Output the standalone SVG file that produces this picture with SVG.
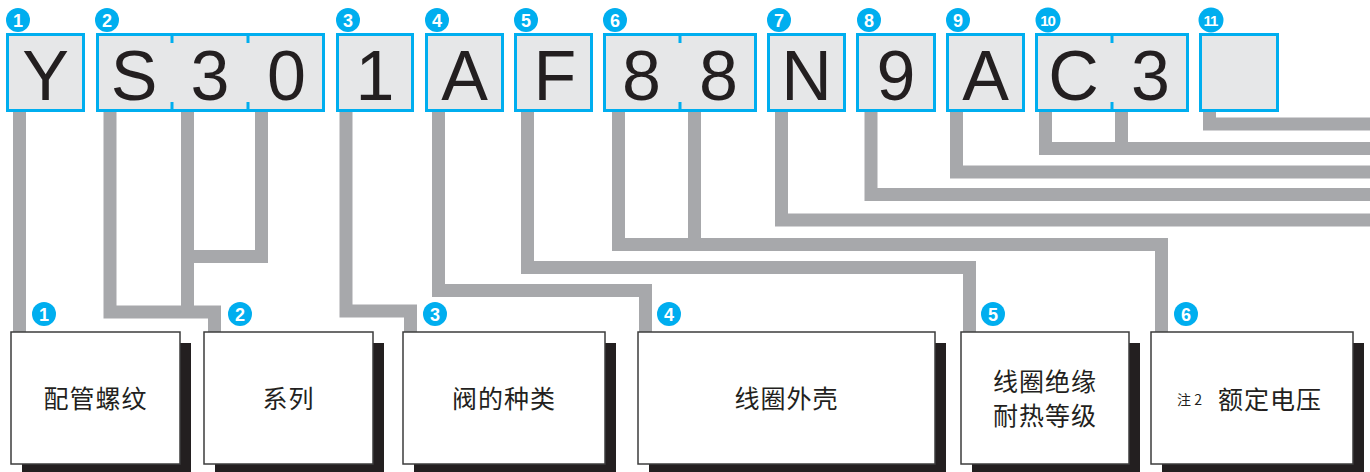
<svg xmlns="http://www.w3.org/2000/svg" width="1370" height="472" viewBox="0 0 1370 472">
<style>
.conn{fill:none;stroke:#A7A8AB;stroke-width:13;stroke-linejoin:miter;stroke-linecap:butt}
.cell{fill:#E6E7E8;stroke:#00AEEF;stroke-width:3}
.tick{stroke:#00AEEF;stroke-width:3}
.big{font-family:"Liberation Sans",Arial,sans-serif;font-size:70px;fill:#231F20;text-anchor:middle}
.badge{fill:#00AEEF}
.bnum{font-family:"Liberation Sans",Arial,sans-serif;font-weight:bold;font-size:18px;fill:#fff;text-anchor:middle}
.bnum2{font-family:"Liberation Sans",Arial,sans-serif;font-weight:bold;font-size:15px;fill:#fff;text-anchor:middle;letter-spacing:-1px}
.shadow{fill:#231F20}
.box{fill:#fff;stroke:#3C3C3C;stroke-width:1.5}
.lbl{font-family:"Noto Sans CJK SC","Noto Sans",sans-serif;font-size:25px;fill:#231F20;text-anchor:middle;letter-spacing:1px}
.note{font-family:"Noto Sans CJK SC","Noto Sans",sans-serif;font-size:14px;fill:#231F20}
</style>
<rect width="1370" height="472" fill="#fff"/>
<g id="connectors">
<path class="conn" d="M19.5 112V332"/>
<path class="conn" d="M110 112V312H214.5V332M187.5 112V312M261.5 112V256.5H187.5"/>
<path class="conn" d="M346 112V311H410.5V332"/>
<path class="conn" d="M438.5 112V290.5H645.5V332"/>
<path class="conn" d="M527.5 112V267.5H969.5V332"/>
<path class="conn" d="M618.5 112V244.5H1161.5V332M694.5 112V244.5"/>
<path class="conn" d="M781.5 112V220H1370"/>
<path class="conn" d="M871 112V194.5H1370"/>
<path class="conn" d="M956.5 112V172H1370"/>
<path class="conn" d="M1045.5 112V148.5H1370M1121.5 112V148.5"/>
<path class="conn" d="M1209.5 112V124H1370"/>
</g>
<g id="code1"><rect class="cell" x="7.5" y="34.5" width="76" height="76"/><text class="big" x="45.5" y="100">Y</text>
<circle class="badge" cx="18" cy="20" r="12"/><text class="bnum" x="18" y="26.5">1</text></g>
<g id="code2"><rect class="cell" x="97.5" y="34.5" width="226" height="76"/>
<line class="tick" x1="172" y1="35" x2="172" y2="43"/><line class="tick" x1="172" y1="102" x2="172" y2="110"/>
<line class="tick" x1="248" y1="35" x2="248" y2="43"/><line class="tick" x1="248" y1="102" x2="248" y2="110"/>
<text class="big" x="134" y="100">S</text><text class="big" x="210" y="100">3</text><text class="big" x="286.5" y="100">0</text>
<circle class="badge" cx="107" cy="20" r="12"/><text class="bnum" x="107" y="26.5">2</text></g>
<g id="code3"><rect class="cell" x="337.5" y="34.5" width="75" height="76"/><text class="big" x="375" y="100">1</text>
<circle class="badge" cx="348" cy="20" r="12"/><text class="bnum" x="348" y="26.5">3</text></g>
<g id="code4"><rect class="cell" x="426.5" y="34.5" width="76" height="76"/><text class="big" x="464.5" y="100">A</text>
<circle class="badge" cx="437" cy="20" r="12"/><text class="bnum" x="437" y="26.5">4</text></g>
<g id="code5"><rect class="cell" x="515.5" y="34.5" width="76" height="76"/><text class="big" x="555" y="100">F</text>
<circle class="badge" cx="526" cy="20" r="12"/><text class="bnum" x="526" y="26.5">5</text></g>
<g id="code6"><rect class="cell" x="604.5" y="34.5" width="151" height="76"/>
<line class="tick" x1="680" y1="35" x2="680" y2="43"/><line class="tick" x1="680" y1="102" x2="680" y2="110"/>
<text class="big" x="641.5" y="100">8</text><text class="big" x="718.5" y="100">8</text>
<circle class="badge" cx="615" cy="20" r="12"/><text class="bnum" x="615" y="26.5">6</text></g>
<g id="code7"><rect class="cell" x="768.5" y="34.5" width="76" height="76"/><text class="big" x="806.5" y="100">N</text>
<circle class="badge" cx="779" cy="20" r="12"/><text class="bnum" x="779" y="26.5">7</text></g>
<g id="code8"><rect class="cell" x="857.5" y="34.5" width="77" height="76"/><text class="big" x="896" y="100">9</text>
<circle class="badge" cx="869" cy="20" r="12"/><text class="bnum" x="869" y="26.5">8</text></g>
<g id="code9"><rect class="cell" x="947.5" y="34.5" width="76" height="76"/><text class="big" x="985.5" y="100">A</text>
<circle class="badge" cx="958" cy="20" r="12"/><text class="bnum" x="958" y="26.5">9</text></g>
<g id="code10"><rect class="cell" x="1036.5" y="34.5" width="151" height="76"/>
<line class="tick" x1="1112" y1="35" x2="1112" y2="43"/><line class="tick" x1="1112" y1="102" x2="1112" y2="110"/>
<text class="big" x="1073.5" y="100">C</text><text class="big" x="1150.5" y="100">3</text>
<circle class="badge" cx="1048" cy="20" r="12.5"/><text class="bnum2" x="1047.5" y="25.5">10</text></g>
<g id="code11"><rect class="cell" x="1200.5" y="34.5" width="77" height="76"/>
<circle class="badge" cx="1211" cy="20" r="12.5"/><text class="bnum2" x="1210.5" y="25.5">11</text></g>

<g id="item1"><rect class="shadow" x="22" y="343" width="169" height="132"/><rect class="box" x="11" y="332" width="169" height="132"/>
<text class="lbl" x="95.5" y="408">配管螺纹</text>
<circle class="badge" cx="44" cy="314" r="12"/><text class="bnum" x="44" y="320.5">1</text></g>
<g id="item2"><rect class="shadow" x="215" y="343" width="169" height="132"/><rect class="box" x="204" y="332" width="169" height="132"/>
<text class="lbl" x="288.5" y="408">系列</text>
<circle class="badge" cx="240" cy="314" r="12"/><text class="bnum" x="240" y="320.5">2</text></g>
<g id="item3"><rect class="shadow" x="414" y="343" width="202" height="132"/><rect class="box" x="403" y="332" width="202" height="132"/>
<text class="lbl" x="504" y="408">阀的种类</text>
<circle class="badge" cx="435" cy="314" r="12"/><text class="bnum" x="435" y="320.5">3</text></g>
<g id="item4"><rect class="shadow" x="649" y="343" width="297" height="132"/><rect class="box" x="638" y="332" width="297" height="132"/>
<text class="lbl" x="786.5" y="408">线圈外壳</text>
<circle class="badge" cx="669" cy="314" r="12"/><text class="bnum" x="669" y="320.5">4</text></g>
<g id="item5"><rect class="shadow" x="972" y="343" width="168" height="132"/><rect class="box" x="961" y="332" width="168" height="132"/>
<text class="lbl" x="1045" y="391">线圈绝缘</text><text class="lbl" x="1045" y="425">耐热等级</text>
<circle class="badge" cx="993" cy="314" r="12"/><text class="bnum" x="993" y="320.5">5</text></g>
<g id="item6"><rect class="shadow" x="1162" y="343" width="202" height="132"/><rect class="box" x="1151" y="332" width="202" height="132"/>
<text class="note" x="1177" y="405">注 2</text><text class="lbl" x="1270" y="409">额定电压</text>
<circle class="badge" cx="1186" cy="314" r="12"/><text class="bnum" x="1186" y="320.5">6</text></g>
</svg>
